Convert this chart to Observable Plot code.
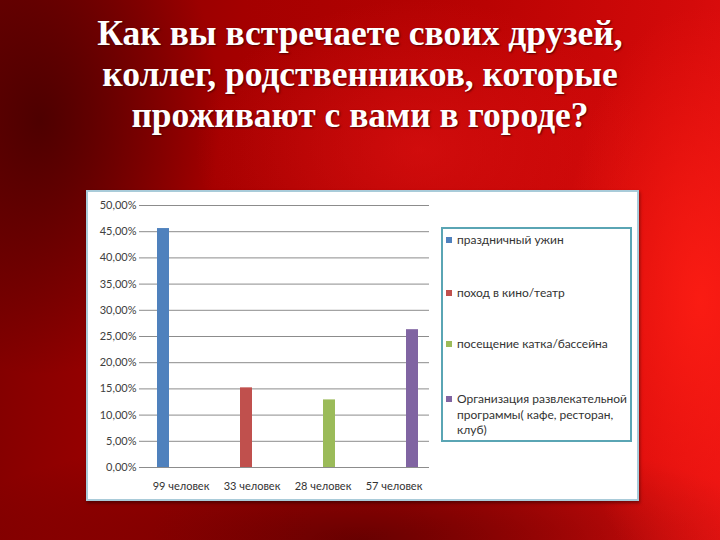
<!DOCTYPE html>
<html>
<head>
<meta charset="utf-8">
<script src="https://cdn.jsdelivr.net/npm/d3@7"></script>
<script src="https://cdn.jsdelivr.net/npm/@observablehq/plot@0.6"></script>
<style>
  html, body { margin: 0; padding: 0; }
  body {
    width: 720px; height: 540px; position: relative; overflow: hidden;
    background:
      radial-gradient(ellipse 200px 420px at 700px 300px, rgba(255,30,20,0.85), rgba(255,30,20,0) 70%),
      radial-gradient(ellipse 300px 200px at 420px 150px, rgba(230,20,20,0.55), rgba(230,20,20,0) 75%),
      radial-gradient(ellipse 240px 340px at 40px 120px, rgba(60,0,0,0.75), rgba(60,0,0,0) 75%),
      radial-gradient(ellipse 520px 140px at 360px 540px, rgba(90,0,0,0.85), rgba(90,0,0,0) 80%),
      linear-gradient(100deg, #780000 0%, #a40000 30%, #ba0303 60%, #d40a0a 85%, #e81212 100%);
  }
  #title {
    position: absolute; left: 0; top: 13px; width: 720px;
    text-align: center; color: #fff;
    font-family: "Liberation Serif", "Times New Roman", serif; font-weight: bold;
    font-size: 35.5px; line-height: 41px;
    text-shadow: 1px 1px 2px rgba(60,0,0,0.8);
  }
  #box {
    position: absolute; left: 86px; top: 190px; width: 549px; height: 307px;
    background: #fff; border: 2px solid #a9cbd9;
    box-shadow: 1px 2px 3px rgba(0,0,0,0.4);
  }
  #plot { position: absolute; left: 0; top: 0; }
  #legend {
    position: absolute; left: 353px; top: 35px; width: 187px; height: 211px;
    border: 2px solid #5aa5b4; background: #fff;
    font-family: Lato, "Open Sans", sans-serif; font-size: 12px; color: #333;
  }
  .item { position: absolute; left: 3px; width: 184px; line-height: 15.5px; }
  .sw { position: absolute; left: 0; top: 5px; width: 6px; height: 6px; }
  .lab { margin-left: 11px; }
</style>
</head>
<body>
<div id="title">Как вы встречаете своих друзей,<br>коллег, родственников, которые<br>проживают с вами в городе?</div>
<div id="box"><div id="plot"></div><div id="legend"></div></div>
<script>
const categories = ["99 человек", "33 человек", "28 человек", "57 человек"];
const series = ["праздничный ужин", "поход в кино/театр", "посещение катка/бассейна", "Организация развлекательной программы( кафе, ресторан, клуб)"];
const values = [45.6, 15.2, 12.9, 26.3];
const colors = ["#4F81BD", "#C0504D", "#9BBB59", "#8064A2"];
const yTicks = [0, 5, 10, 15, 20, 25, 30, 35, 40, 45, 50];

const data = categories.map((c, i) => ({category: c, series: series[i], value: values[i]}));
const fmt = d => d.toFixed(2).replace(".", ",") + "%";

const chart = Plot.plot({
  width: 350,
  height: 306,
  marginLeft: 57,
  marginRight: 9,
  marginTop: 13,
  marginBottom: 31,
  style: {fontFamily: "Lato, 'Open Sans', sans-serif", fontSize: "10px", color: "#404040", background: "transparent"},
  fx: {domain: categories, padding: 0, label: null},
  x: {domain: series, paddingInner: 0, paddingOuter: 0.75, axis: null},
  y: {domain: [0, 50], label: null},
  color: {domain: series, range: colors},
  marks: [
    Plot.ruleY(yTicks.filter(d => d > 0), {stroke: "#8c8c8c", strokeWidth: 1}),
    Plot.ruleY([0], {stroke: "#8c8c8c", strokeWidth: 1}),
    Plot.barY(data, {fx: "category", x: "series", y: "value", fill: "series", inset: 0}),
    Plot.axisY({ticks: yTicks, tickFormat: fmt, tickSize: 6, tickPadding: 3, stroke: "#8c8c8c", fill: "#404040", fontSize: 11, label: null}),
    Plot.axisFx({anchor: "bottom", tickSize: 0, tickPadding: 15, fill: "#333", fontSize: 11, label: null})
  ]
});
document.getElementById("plot").appendChild(chart);

const legend = document.getElementById("legend");
const tops = [3, 56, 107, 162];
series.forEach((s, i) => {
  const item = document.createElement("div");
  item.className = "item";
  item.style.top = tops[i] + "px";
  item.innerHTML = `<span class="sw" style="background:${colors[i]}"></span><div class="lab">${s}</div>`;
  legend.appendChild(item);
});
</script>
</body>
</html>
